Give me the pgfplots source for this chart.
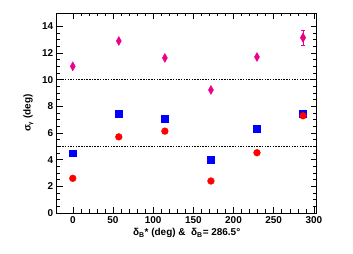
\documentclass[border=0pt]{standalone}
\usepackage{pgfplots}
\pgfplotsset{compat=1.18}
\usepackage{fontspec}
\setmainfont{Liberation Sans}
\begin{document}
\begin{tikzpicture}[x=1bp,y=1bp]
\path (0,0) rectangle (353,254);
\begin{axis}[
  at={(56.7bp,41bp)}, anchor=south west,
  scale only axis, width=260bp, height=200bp,
  xmin=-20, xmax=303.5, ymin=0, ymax=15,
  xtick={0,50,...,300}, ytick={0,2,...,14},
  minor x tick num=4, minor y tick num=3,
  tick align=inside, ticks=both,
  major tick length=6bp, minor tick length=3.5bp,
  tick style={black, line width=0.5pt},
  axis line style={line width=0.6pt},
  /pgf/number format/assume math mode=true,
  ticklabel style={font=\fontsize{10}{12}\selectfont\bfseries},
  xlabel={\bfseries δ\textsubscript{B}* (deg) \&\ \ δ\textsubscript{B}= 286.5°},
  ylabel={\bfseries σ\textsubscript{\fontsize{6}{6}\selectfont γ} (deg)},
  label style={font=\fontsize{10}{12}\selectfont},
  xlabel style={yshift=2bp},
  ylabel style={yshift=2bp},
  clip=false,
]
\addplot[black, line width=0.5pt, dash pattern=on 1.5bp off 1.2bp, forget plot] coordinates {(-20,10) (303.5,10)};
\addplot[black, line width=0.5pt, dash pattern=on 1.5bp off 1.2bp, forget plot] coordinates {(-20,5) (303.5,5)};
\addplot[only marks, mark=diamond*, mark size=4.5bp, mark options={xscale=0.75, fill=magenta, draw=magenta}, color=magenta]
  coordinates {(0,11.0) (57.3,12.9) (114.6,11.63) (171.9,9.23) (229.2,11.7) (286.5,13.15)};
\addplot[only marks, mark=diamond*, mark size=4.5bp, mark options={xscale=0.75, fill=magenta, draw=magenta}, color=magenta,
  error bars/.cd, y dir=both, y explicit, error bar style={line width=0.8pt}, error mark options={rotate=90, mark size=2bp}]
  coordinates {(286.5,13.15) +- (0,0.58)};
\addplot[only marks, mark=square*, mark size=3.4bp, color=blue, mark options={fill=blue, draw=blue}]
  coordinates {(0,4.49) (57.3,7.44) (114.6,7.06) (171.9,4.02) (229.2,6.34) (286.5,7.46)};
\addplot[only marks, mark=*, mark size=3.4bp, color=red, mark options={fill=red, draw=red}]
  coordinates {(0,2.6) (57.3,5.71) (114.6,6.14) (171.9,2.40) (229.2,4.52) (286.5,7.29)};
\end{axis}
\end{tikzpicture}
\end{document}
